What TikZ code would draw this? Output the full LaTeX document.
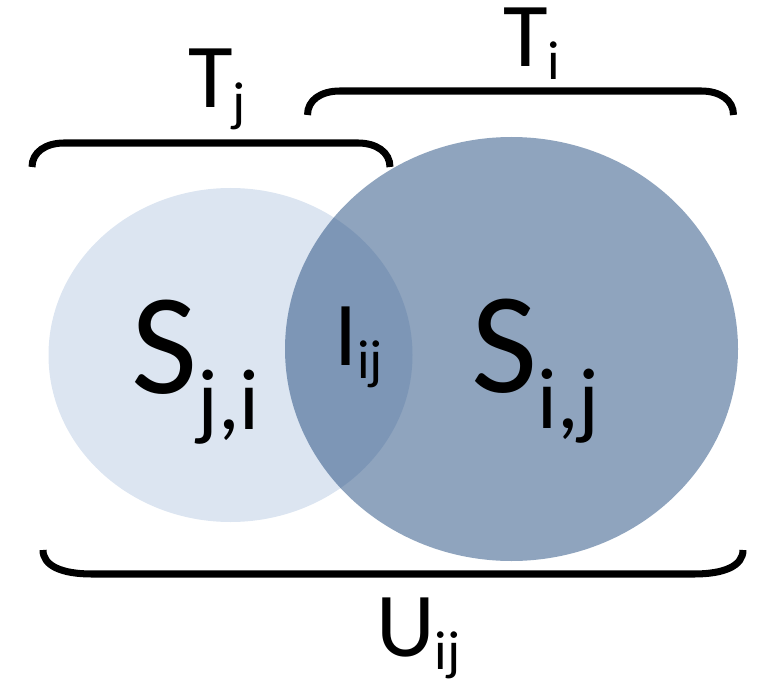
\documentclass[tikz,border=0pt]{standalone}
\usepackage{fontspec}
\setmainfont{Carlito}
\newlength{\pxu}
\setlength{\pxu}{0.02cm}
% index set lower and smaller than the letter
\newcommand{\idx}[2][13]{\raisebox{-#1\pxu}{\scalebox{0.6}{#2}}}
\definecolor{setlight}{HTML}{DCE5F1}
\definecolor{setdark}{HTML}{1F497D}

\begin{document}
\begin{tikzpicture}[x=0.02cm, y=-0.02cm,
    brace/.style={line width=4pt, black},
    lbl/.style={inner sep=0pt, anchor=base west, font=\fontsize{52}{52}\selectfont},
    big/.style={inner sep=0pt, anchor=base west, font=\fontsize{82}{82}\selectfont}]
    \useasboundingbox (0,0) rectangle (757,682);

    % the two sets
    \fill[setlight] (230.5,355) ellipse [x radius=182, y radius=167];
    \fill[setdark, fill opacity=0.5] (511.5,349) ellipse [x radius=226.5, y radius=212];

    % braces
    \draw[brace] (32,167) .. controls (32,152) and (46,143) .. (64,143) -- (358,143) .. controls (376,143) and (390,152) .. (390,167);
    \draw[brace] (307.5,115) .. controls (307.5,100) and (321,91) .. (340,91) -- (701,91) .. controls (720,91) and (733.5,100) .. (733.5,115);
    \draw[brace] (43,550) .. controls (43,566) and (62,574) .. (92,574) -- (694,574) .. controls (724,574) and (743,566) .. (743,550);

    \node (tj) [lbl] at (188,108) {T\idx{j}};
    \node (ti) [lbl] at (503,67) {T\idx{i}};
    \node (sji) [big] at (131,393) {S\idx[36]{j,i}};
    \node (iij) [lbl] at (334,365) {I\idx{ij}};
    \node (sij) [big] at (471,392) {S\idx[36]{i,j}};
    \node (uij) [lbl] at (376,656) {U\idx{ij}};
\end{tikzpicture}
\end{document}
